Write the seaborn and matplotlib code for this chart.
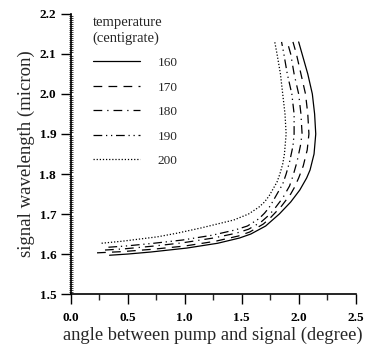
import pandas as pd
import numpy as np
import matplotlib
matplotlib.use("Agg")
import matplotlib.pyplot as plt
from matplotlib.ticker import MultipleLocator
import seaborn as sns

# curves: signal wavelength (micron) vs angle (degree)
lam_160 = [1.597, 1.600, 1.605, 1.615, 1.627, 1.640, 1.650, 1.670, 1.685, 1.700, 1.715, 1.730,
           1.745, 1.760, 1.790, 1.810, 1.850, 1.900, 1.950, 2.000, 2.050, 2.100, 2.130]
ang_160 = [0.34, 0.50, 0.70, 1.02, 1.29, 1.48, 1.58, 1.71, 1.77, 1.83, 1.88, 1.93,
           1.97, 2.01, 2.07, 2.10, 2.135, 2.15, 2.14, 2.12, 2.08, 2.03, 2.00]

lam_170 = [1.603, 1.606, 1.612, 1.620, 1.632, 1.645, 1.655, 1.675, 1.690, 1.705, 1.720, 1.735,
           1.750, 1.765, 1.790, 1.820, 1.860, 1.900, 1.950, 2.000, 2.050, 2.100, 2.130]
ang_170 = [0.23, 0.45, 0.72, 1.00, 1.27, 1.47, 1.57, 1.69, 1.75, 1.80, 1.85, 1.89,
           1.93, 1.96, 2.00, 2.04, 2.075, 2.09, 2.08, 2.06, 2.02, 1.98, 1.95]

lam_180 = [1.610, 1.613, 1.620, 1.628, 1.640, 1.652, 1.662, 1.680, 1.695, 1.710, 1.725, 1.740,
           1.755, 1.770, 1.795, 1.830, 1.870, 1.900, 1.950, 2.000, 2.050, 2.100, 2.130]
ang_180 = [0.30, 0.47, 0.73, 0.98, 1.25, 1.45, 1.56, 1.67, 1.73, 1.78, 1.82, 1.86,
           1.89, 1.92, 1.95, 1.985, 2.015, 2.03, 2.02, 2.00, 1.96, 1.93, 1.90]

lam_190 = [1.617, 1.620, 1.627, 1.635, 1.647, 1.660, 1.670, 1.688, 1.702, 1.716, 1.730, 1.745,
           1.760, 1.775, 1.800, 1.830, 1.870, 1.900, 1.950, 2.000, 2.050, 2.100, 2.130]
ang_190 = [0.33, 0.48, 0.73, 0.98, 1.24, 1.44, 1.55, 1.65, 1.70, 1.74, 1.77, 1.80,
           1.83, 1.86, 1.89, 1.92, 1.95, 1.96, 1.96, 1.94, 1.90, 1.87, 1.85]

lam_200 = [1.627, 1.632, 1.643, 1.652, 1.665, 1.685, 1.700, 1.717, 1.730, 1.745, 1.760, 1.780,
           1.800, 1.825, 1.850, 1.900, 1.950, 2.000, 2.050, 2.100, 2.130]
ang_200 = [0.27, 0.45, 0.76, 0.93, 1.14, 1.43, 1.56, 1.65, 1.70, 1.74, 1.77, 1.81,
           1.835, 1.86, 1.875, 1.89, 1.88, 1.86, 1.84, 1.81, 1.79]

temps = ["160", "170", "180", "190", "200"]
lams = [lam_160, lam_170, lam_180, lam_190, lam_200]
angs = [ang_160, ang_170, ang_180, ang_190, ang_200]

#build one long table
parts = []
for t, l, a in zip(temps, lams, angs):
    parts.append(pd.DataFrame({"angle": a, "wavelength": l, "temp": t}))
df = pd.concat(parts, ignore_index=True)

sns.set_style("ticks")
plt.rcParams["font.family"] = ["Liberation Serif", "DejaVu Serif"]

fig = plt.figure(figsize=(3.67, 3.48), dpi=100)
ax = fig.add_axes([0.193, 0.155, 0.776, 0.805])

dashes = {"160": "",
          "170": (7, 5),
          "180": (7, 4, 1, 4),
          "190": (7, 3, 1, 3, 1, 3),
          "200": (1, 1.5)}
pal = {t: "black" for t in temps}
sns.lineplot(data=df, x="angle", y="wavelength", hue="temp", style="temp",
             dashes=dashes, palette=pal, sort=False, estimator=None,
             linewidth=0.9, ax=ax)

ax.set_xlim(0, 2.5)
ax.set_ylim(1.5, 2.2)
ax.xaxis.set_major_locator(MultipleLocator(0.5))
ax.xaxis.set_minor_locator(MultipleLocator(0.25))
ax.yaxis.set_major_locator(MultipleLocator(0.1))
ax.yaxis.set_minor_locator(MultipleLocator(0.005))
ax.xaxis.set_major_formatter(matplotlib.ticker.FormatStrFormatter("%.1f"))
ax.yaxis.set_major_formatter(matplotlib.ticker.FormatStrFormatter("%.1f"))
ax.tick_params(axis="both", which="major", direction="out", length=7, width=1,
               labelsize=9.5, colors="black")
ax.tick_params(axis="x", which="major", pad=6)
ax.tick_params(axis="x", which="minor", direction="out", length=4, width=1)
ax.tick_params(axis="y", which="minor", direction="inout", length=3, width=0.6)
for lab in ax.get_xticklabels() + ax.get_yticklabels():
    lab.set_fontweight("bold")
sns.despine(ax=ax)
for s in ["left", "bottom"]:
    ax.spines[s].set_linewidth(1.2)
    ax.spines[s].set_color("black")

ax.set_xlabel("angle between pump and signal (degree)", fontsize=13.3, labelpad=2)
ax.set_ylabel("signal wavelength (micron)", fontsize=13.5, labelpad=3)

h, l = ax.get_legend_handles_labels()
leg = ax.legend(h, l, title="temperature\n(centigrate)", loc="upper left",
                bbox_to_anchor=(0.035, 1.035), frameon=False, fontsize=9.5,
                title_fontsize=10.5, handlelength=3.6, handletextpad=1.3,
                labelspacing=0.93)
leg._legend_box.align = "left"

fig.savefig("out.png", dpi=100)
